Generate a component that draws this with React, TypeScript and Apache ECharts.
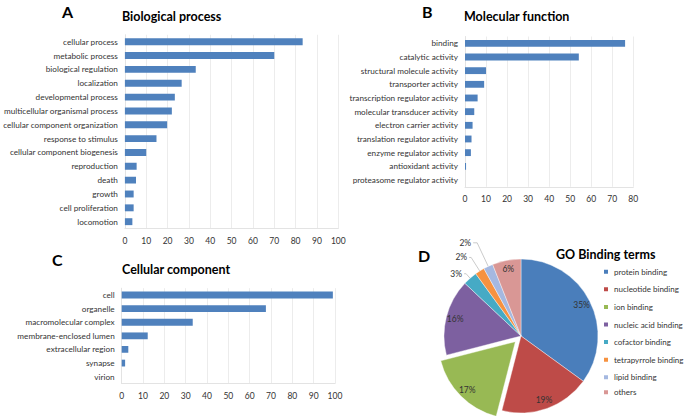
import React, { useEffect, useRef } from "react";
import * as echarts from "echarts";

const bpCategories = [
  "cellular process",
  "metabolic process",
  "biological regulation",
  "localization",
  "developmental process",
  "multicellular organismal process",
  "cellular component organization",
  "response to stimulus",
  "cellular component biogenesis",
  "reproduction",
  "death",
  "growth",
  "cell proliferation",
  "locomotion",
];
const bpValues = [83.3, 70.0, 33.2, 26.6, 23.4, 22.0, 19.8, 14.8, 10.0, 5.5, 5.2, 4.1, 4.1, 3.5];

const mfCategories = [
  "binding",
  "catalytic activity",
  "structural molecule activity",
  "transporter activity",
  "transcription regulator activity",
  "molecular transducer activity",
  "electron carrier activity",
  "translation regulator activity",
  "enzyme regulator activity",
  "antioxidant activity",
  "proteasome regulator activity",
];
const mfValues = [76.1, 54.1, 10.0, 9.1, 6.0, 4.4, 3.6, 3.1, 2.8, 0.5, 0];

const ccCategories = [
  "cell",
  "organelle",
  "macromolecular complex",
  "membrane-enclosed lumen",
  "extracellular region",
  "synapse",
  "virion",
];
const ccValues = [99.0, 67.6, 33.3, 12.2, 3.1, 1.6, 0];

const bindingNames = [
  "protein binding",
  "nucleotide binding",
  "ion binding",
  "nucleic acid binding",
  "cofactor binding",
  "tetrapyrrole binding",
  "lipid binding",
  "others",
];
const bindingValues = [35, 19, 17, 16, 3, 2, 2, 6];
const bindingColors = ["#4A7EBB", "#BE4B48", "#98B954", "#7D60A0", "#46AAC5", "#F69240", "#A5B8E0", "#D99795"];

const FONT = 'Lato, "Open Sans", sans-serif';
const TXT = "#333";
const BAR = "#4F81BD";

function valueAxis(gridIndex: number, max: number) {
  return {
    type: "value",
    gridIndex,
    min: 0,
    max,
    interval: 10,
    axisLine: { show: true, lineStyle: { color: "#e3e3e3", width: 1 } },
    axisTick: { show: false },
    splitLine: { show: true, lineStyle: { color: "#ececec", width: 1 } },
    axisLabel: { fontFamily: FONT, fontSize: 8.5, color: TXT, margin: 8 },
  };
}

function catAxis(gridIndex: number, data: string[]) {
  return {
    type: "category",
    gridIndex,
    data,
    inverse: true,
    axisLine: { show: true, lineStyle: { color: "#e3e3e3", width: 1 } },
    axisTick: { show: false },
    splitLine: { show: false },
    axisLabel: { fontFamily: FONT, fontSize: 8.2, color: TXT, margin: 7, interval: 0 },
  };
}

function barSeries(idx: number, values: number[]) {
  return {
    type: "bar",
    xAxisIndex: idx,
    yAxisIndex: idx,
    data: values,
    barWidth: "50%",
    itemStyle: { color: BAR },
    silent: true,
  };
}

function titleItem(text: string, left: number, top: number, size: number) {
  return {
    text,
    left,
    top,
    padding: 0,
    textStyle: { fontFamily: FONT, fontSize: size, fontWeight: "bold", color: "#000" },
  };
}

const outsideLines: Record<string, [number, number]> = {
  "cofactor binding": [6, 2],
  "tetrapyrrole binding": [16, 2],
  "lipid binding": [26, 4],
};

export default function App() {
  const ref = useRef<HTMLDivElement>(null);

  useEffect(() => {
    document.body.style.margin = "0";
    const chart = echarts.init(ref.current!, undefined, { renderer: "svg" });

    const pieMain = bindingNames.map((name, i) => {
      const small = outsideLines[name];
      const item: any = {
        name,
        value: bindingValues[i],
        itemStyle: { color: bindingColors[i] },
      };
      if (name === "ion binding") item.selected = true;
      if (small) {
        item.label = { show: true, position: "outside" };
        item.labelLine = {
          show: true,
          length: small[0],
          length2: small[1],
          lineStyle: { color: "#b5b5b5", width: 0.7 },
        };
      }
      return item;
    });

    const pieLabels = bindingNames.map((name, i) => {
      const item: any = { name, value: bindingValues[i] };
      if (name === "ion binding") item.selected = true;
      if (outsideLines[name]) item.label = { show: false };
      return item;
    });

    const legendText = { fontFamily: FONT, fontSize: 8, color: TXT, lineHeight: 10 };

    chart.setOption({
      animation: false,
      title: [
        titleItem("A", 62, 3, 16),
        titleItem("Biological process", 122, 10, 12.5),
        titleItem("B", 422, 3, 16),
        titleItem("Molecular function", 464, 10, 12.5),
        titleItem("C", 52, 251, 16),
        titleItem("Cellular component", 122, 263, 12.5),
        titleItem("D", 418, 247, 16),
        titleItem("GO Binding terms", 556, 248, 12.5),
      ],
      grid: [
        { left: 121.7, top: 34.8, width: 216.6, height: 193.8 },
        { left: 465, top: 36.5, width: 168.3, height: 150.3 },
        { left: 121.7, top: 288.2, width: 213.3, height: 95.3 },
      ],
      xAxis: [valueAxis(0, 100), valueAxis(1, 80), valueAxis(2, 100)],
      yAxis: [catAxis(0, bpCategories), catAxis(1, mfCategories), catAxis(2, ccCategories)],
      legend: [
        {
          orient: "vertical",
          left: 602,
          top: 266.7,
          itemWidth: 6,
          itemHeight: 6,
          itemGap: 7.6,
          icon: "rect",
          padding: 0,
          data: bindingNames.slice(0, 7),
          textStyle: legendText,
          selectedMode: false,
        },
        {
          orient: "vertical",
          left: 602,
          top: 387.3,
          itemWidth: 6,
          itemHeight: 6,
          icon: "rect",
          padding: 0,
          data: bindingNames.slice(7),
          textStyle: legendText,
          selectedMode: false,
        },
      ],
      series: [
        barSeries(0, bpValues),
        barSeries(1, mfValues),
        barSeries(2, ccValues),
        {
          type: "pie",
          center: [521, 336],
          radius: 77,
          startAngle: 90,
          clockwise: true,
          selectedMode: "single",
          selectedOffset: 8,
          avoidLabelOverlap: false,
          silent: true,
          emphasis: { disabled: true },
          itemStyle: { borderColor: "#ffffff", borderWidth: 0.4 },
          label: {
            show: false,
            position: "outside",
            formatter: "{d}%",
            fontFamily: FONT,
            fontSize: 8.5,
            color: TXT,
            distanceToLabelLine: 2,
          },
          labelLine: { show: false },
          data: pieMain,
        },
        {
          type: "pie",
          center: [521, 336],
          radius: 130,
          startAngle: 90,
          clockwise: true,
          selectedMode: "single",
          selectedOffset: 8,
          avoidLabelOverlap: false,
          silent: true,
          emphasis: { disabled: true },
          itemStyle: { color: "rgba(0,0,0,0)", borderWidth: 0 },
          label: {
            show: true,
            position: "inside",
            formatter: "{d}%",
            fontFamily: FONT,
            fontSize: 8.5,
            color: TXT,
          },
          labelLine: { show: false },
          data: pieLabels,
        },
      ],
    });

    return () => chart.dispose();
  }, []);

  return (
    <div
      ref={ref}
      style={{ position: "absolute", left: 0, top: 0, width: 685, height: 416, background: "#fff" }}
    />
  );
}
